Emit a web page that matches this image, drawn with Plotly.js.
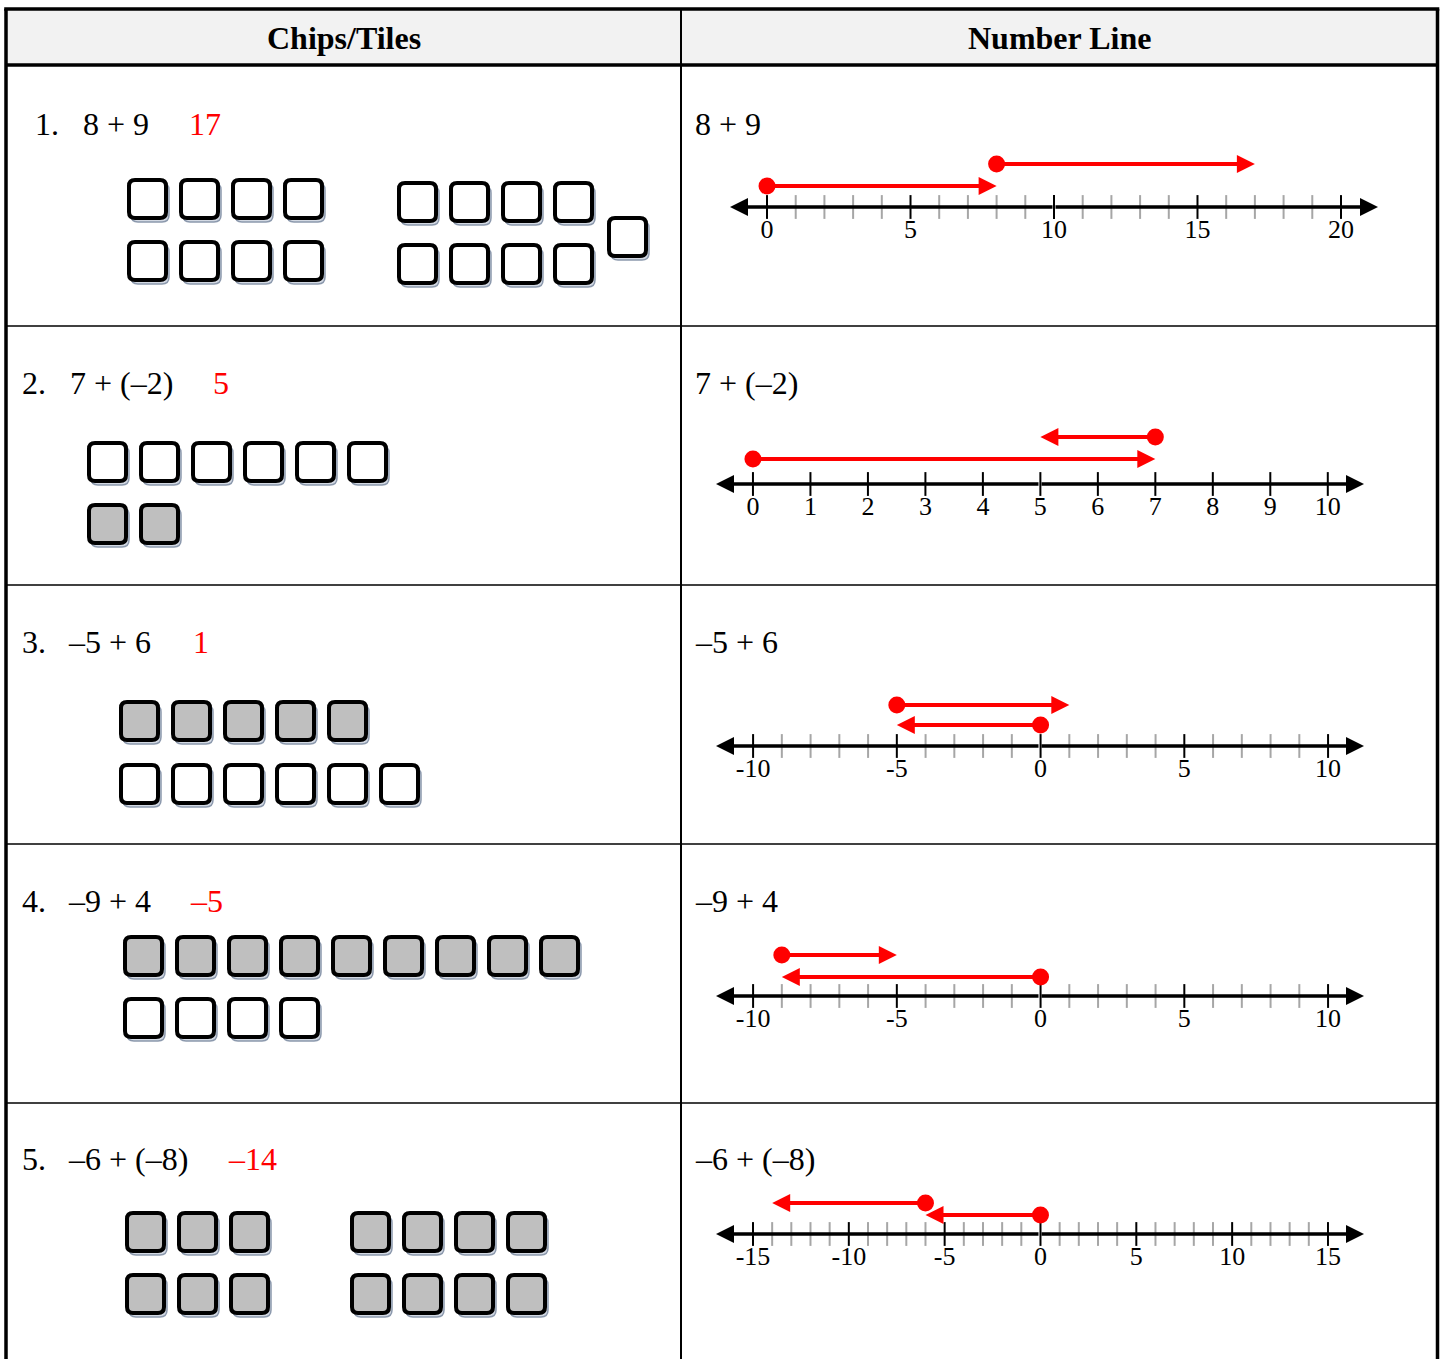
<!DOCTYPE html>
<html><head><meta charset="utf-8">
<script src="https://cdn.plot.ly/plotly-3.0.1.min.js"></script>
<style>html,body{margin:0;padding:0;background:#fff}#chart{width:1443px;height:1359px}</style>
</head><body><div id="chart"></div>
<script>
// ---------------- data ----------------
const headers = ['Chips/Tiles', 'Number Line'];
const problemNumbers = ['1.', '2.', '3.', '4.', '5.'];
const expressions = ['8 + 9', '7 + (–2)', '–5 + 6', '–9 + 4', '–6 + (–8)'];
const answers = ['17', '5', '1', '–5', '–14'];
const firstTerms = [8, 7, -5, -9, -6];
const secondTerms = [9, -2, 6, 4, -8];
const tileCounts = [[8, 9], [6, 2], [5, 6], [9, 4], [6, 8]];
const tileSigns = [['+', '+'], ['+', '-'], ['-', '+'], ['-', '+'], ['-', '-']];
const lineLabels1 = [0, 5, 10, 15, 20];
const lineLabels2 = [0, 1, 2, 3, 4, 5, 6, 7, 8, 9, 10];
const lineLabels3 = [-10, -5, 0, 5, 10];
const lineLabels4 = [-10, -5, 0, 5, 10];
const lineLabels5 = [-15, -10, -5, 0, 5, 10, 15];
const lineLabels = [lineLabels1, lineLabels2, lineLabels3, lineLabels4, lineLabels5];
const lineRanges = [[-1.29, 21.29], [-0.643, 10.63], [-11.29, 11.25], [-11.29, 11.25], [-16.93, 16.88]];

// ---------------- layout / style ----------------
const W = 1443, H = 1359;
const FONT = 'Liberation Serif, Times New Roman, serif';
const rowCenters = [124, 383, 642, 901, 1159];
const leftTextX = [[34, 82, 188], [21, 69, 212], [21, 67, 192], [21, 67, 189], [21, 67, 227]];
const rightTextX = 694;
const lineY = [207, 484, 746, 996, 1234];
const lineTips = [[730, 1378], [716, 1364], [716, 1364], [716, 1364], [716, 1364]];
const majorEvery = [5, 1, 5, 5, 5];
const arrowLift = [[21, 43], [25, 47], [21, 41], [19, 41], [19, 31]];
const tileLayout = [
  [{x0: 127, y0: 178, cols: 4}, {x0: 397, y0: 181, cols: 4, rows: 2, extra: [607, 216]}],
  [{x0: 87, y0: 441, cols: 6}, {x0: 87, y0: 503, cols: 6}],
  [{x0: 119, y0: 700, cols: 6}, {x0: 119, y0: 763, cols: 6}],
  [{x0: 123, y0: 935, cols: 9}, {x0: 123, y0: 997, cols: 9}],
  [{x0: 125, y0: 1211, cols: 3}, {x0: 350, y0: 1211, cols: 4}]
];
const TILE_W = 41, TILE_H = 42, PITCH_X = 52, PITCH_Y = 62;

const shapes = [], annotations = [], traces = [];

// table
shapes.push({type: 'rect', xref: 'x', yref: 'y', x0: 6, x1: 1437.5, y0: 9, y1: 65,
  fillcolor: '#f2f2f2', line: {width: 0}, layer: 'below'});
function seg(x0, y0, x1, y1, w) {
  shapes.push({type: 'line', xref: 'x', yref: 'y', x0, y0, x1, y1, line: {color: '#000', width: w}});
}
[326, 585, 844, 1103].forEach(y => seg(6, y, 1437.5, y, 1.6));
seg(681, 9, 681, H, 2);
seg(4.2, 9, 1439.3, 9, 3.5);
seg(6, 65, 1437.5, 65, 3.5);
seg(6, 9, 6, H, 3.5);
seg(1437.5, 9, 1437.5, H, 3.5);

headers.forEach((t, i) => annotations.push({xref: 'x', yref: 'y', x: i === 0 ? 344 : 1059, y: 38,
  text: '<b>' + t + '</b>', showarrow: false, xanchor: 'center', yanchor: 'middle',
  font: {family: FONT, size: 32, color: '#000'}}));

// tiles
function rr(x, y, w, h, r) {
  return `M${x + r},${y} L${x + w - r},${y} Q${x + w},${y} ${x + w},${y + r} L${x + w},${y + h - r} ` +
    `Q${x + w},${y + h} ${x + w - r},${y + h} L${x + r},${y + h} Q${x},${y + h} ${x},${y + h - r} ` +
    `L${x},${y + r} Q${x},${y} ${x + r},${y} Z`;
}
tileCounts.forEach((groups, p) => {
  groups.forEach((n, g) => {
    const L = tileLayout[p][g];
    const fill = tileSigns[p][g] === '+' ? '#ffffff' : '#bfbfbf';
    for (let k = 0; k < n; k++) {
      let x, y;
      if (L.extra && k >= L.cols * L.rows) { x = L.extra[0]; y = L.extra[1]; }
      else { x = L.x0 + (k % L.cols) * PITCH_X; y = L.y0 + Math.floor(k / L.cols) * PITCH_Y; }
      shapes.push({type: 'path', xref: 'x', yref: 'y', path: rr(x + 4, y + 5, TILE_W - 3, TILE_H - 3, 7),
        fillcolor: '#d3d9e3', line: {color: '#8c99ad', width: 1.5}});
      shapes.push({type: 'path', xref: 'x', yref: 'y', path: rr(x + 2, y + 2, TILE_W - 4, TILE_H - 4, 6),
        fillcolor: fill, line: {color: '#000', width: 4}});
    }
  });
});

// left / right texts
for (let i = 0; i < 5; i++) {
  const items = [[problemNumbers[i], leftTextX[i][0], '#000'], [expressions[i], leftTextX[i][1], '#000'],
                 [answers[i], leftTextX[i][2], '#ff0000'], [expressions[i], rightTextX, '#000']];
  items.forEach(([t, x, c]) => annotations.push({xref: 'x', yref: 'y', x, y: rowCenters[i], text: t,
    showarrow: false, xanchor: 'left', yanchor: 'middle', borderpad: 0,
    font: {family: FONT, size: 32, color: c}}));
}

const layout = {
  width: W, height: H, margin: {l: 0, r: 0, t: 0, b: 0, pad: 0},
  paper_bgcolor: '#fff', plot_bgcolor: 'rgba(0,0,0,0)', showlegend: false,
  xaxis: {domain: [0, 1], range: [0, W], visible: false, fixedrange: true},
  yaxis: {domain: [0, 1], range: [H, 0], visible: false, fixedrange: true},
  shapes, annotations
};
traces.push({type: 'scatter', x: [0], y: [0], mode: 'markers', marker: {opacity: 0}, xaxis: 'x', yaxis: 'y', hoverinfo: 'skip'});

// number lines
for (let i = 0; i < 5; i++) {
  const n = i + 2, xa = 'x' + n, ya = 'y' + n;
  const labels = lineLabels[i];
  const yb = 1 - lineY[i] / H;
  layout['xaxis' + n] = {domain: [lineTips[i][0] / W, lineTips[i][1] / W], range: lineRanges[i], anchor: ya,
    showgrid: false, zeroline: false, showline: false, ticks: '', tickvals: labels,
    ticktext: labels.map(v => String(v)), ticklabelstandoff: 4,
    tickfont: {family: FONT, size: 26, color: '#000'}, fixedrange: true};
  layout['yaxis' + n] = {domain: [yb, yb + 60 / H], range: [0, 60], anchor: xa, visible: false, fixedrange: true};
  const tx = [], tc = [];
  for (let v = labels[0]; v <= labels[labels.length - 1]; v++) {
    tx.push(v); tc.push(v % majorEvery[i] === 0 ? '#000000' : '#a6a6a6');
  }
  traces.push({type: 'scatter', mode: 'markers', x: tx, y: tx.map(() => 0), xaxis: xa, yaxis: ya,
    cliponaxis: false, hoverinfo: 'skip',
    marker: {symbol: 'line-ns-open', size: 17, color: tc, line: {width: 2}}});
  const mid = (lineRanges[i][0] + lineRanges[i][1]) / 2;
  [lineRanges[i][0], lineRanges[i][1]].forEach(end => annotations.push({xref: xa, yref: ya, axref: xa, ayref: ya,
    x: end, y: 0, ax: mid, ay: 0, text: '', showarrow: true, arrowhead: 2, arrowsize: 1.0,
    arrowwidth: 3.6, arrowcolor: '#000'}));
  const a = firstTerms[i], b = secondTerms[i];
  const starts = [0, a], ends = [a, a + b];
  for (let k = 0; k < 2; k++) {
    annotations.push({xref: xa, yref: ya, axref: xa, ayref: ya, x: ends[k], y: arrowLift[i][k],
      ax: starts[k], ay: arrowLift[i][k], text: '', showarrow: true, arrowhead: 2, arrowsize: 0.9,
      arrowwidth: 4, arrowcolor: '#ff0000'});
  }
  traces.push({type: 'scatter', mode: 'markers', x: starts, y: arrowLift[i], xaxis: xa, yaxis: ya,
    cliponaxis: false, hoverinfo: 'skip', marker: {symbol: 'circle', size: 17, color: '#ff0000'}});
}

Plotly.newPlot('chart', traces, layout, {staticPlot: true, displayModeBar: false});
</script></body></html>
